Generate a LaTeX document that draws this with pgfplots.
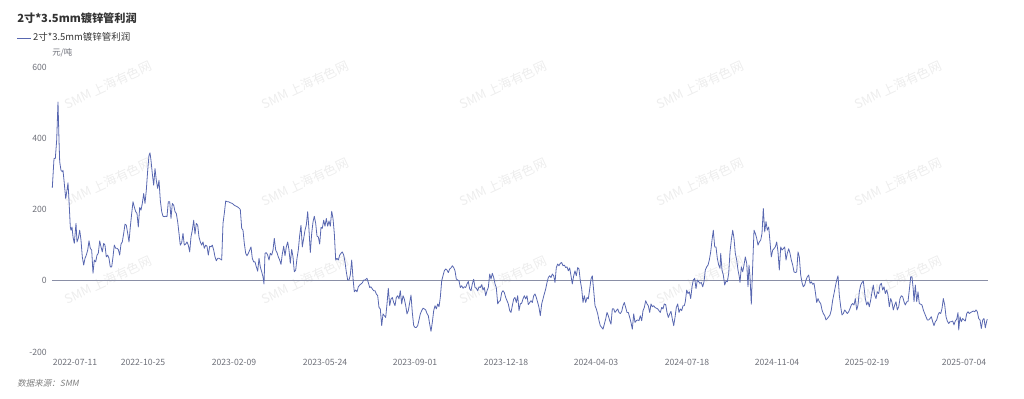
\documentclass[border=0pt]{standalone}
\usepackage{pgfplots}
\pgfplotsset{compat=1.18}
\usepackage{fontspec}
\setmainfont{Noto Sans CJK SC}
\newfontfamily\srcfont[FakeSlant=0.2]{Noto Sans CJK SC}
\definecolor{serie}{HTML}{5867B0}
\definecolor{axisgray}{HTML}{6E7079}
\definecolor{zeroline}{HTML}{8A8FA6}
\definecolor{titlec}{HTML}{333333}
\definecolor{wm}{HTML}{EDEDED}
\begin{document}
\begin{tikzpicture}[x=0.75pt,y=-0.75pt]
\path[use as bounding box] (0,0) rectangle (1024,399);
% watermarks
\foreach \wx in {108,305,503,700,898}{
  \foreach \wy in {85,182,280}{
    \node[rotate=25,text=wm,font=\fontsize{9.5}{11}\selectfont,inner sep=0pt] at (\wx,\wy) {SMM 上海有色网};
  }
}
\node[anchor=west,inner sep=0pt,text=titlec,font=\fontsize{8.4}{10}\selectfont\bfseries] at (17,18) {2寸*3.5mm镀锌管利润};
\node[anchor=west,inner sep=0pt,text=axisgray,font=\fontsize{6.3}{7.5}\selectfont] at (52,53) {元/吨};
\node[anchor=west,inner sep=0pt,text=gray,font=\fontsize{6.4}{7.5}\selectfont\srcfont] at (17,383) {数据来源：SMM};
\begin{axis}[
  at={(39pt,-264pt)}, anchor=south west, scale only axis,
  width=702pt, height=213.75pt,
  xmin=52, xmax=988, ymin=-200, ymax=600,
  axis line style={draw=none},
  tick style={draw=none}, major tick length=0pt,
  xtick={75,143,234,325,415,506,596,687,777,867,964},
  xticklabels={2022-07-11,2022-10-25,2023-02-09,2023-05-24,2023-09-01,2023-12-18,2024-04-03,2024-07-18,2024-11-04,2025-02-19,2025-07-04},
  ytick={-200,0,200,400,600}, yticklabels={-200,0,200,400,600},
  xticklabel style={anchor=center, inner sep=0pt, yshift=-7.5pt, text=axisgray, font=\fontsize{6.5}{7.5}\selectfont},
  yticklabel style={anchor=east, inner sep=0pt, xshift=-3.75pt, text=axisgray, font=\fontsize{6.5}{7.5}\selectfont},
  /pgf/number format/assume math mode=true,
  legend image code/.code={\draw[#1] (0pt,0pt) -- (10pt,0pt);},
  legend style={at={(-0.0374,1.1018)}, anchor=west, draw=none, fill=none, inner sep=0pt, outer sep=0pt,
    font=\fontsize{7.1}{8.5}\selectfont, text=titlec, nodes={inner sep=1.5pt}},
]
\draw[zeroline, line width=0.7pt] (axis cs:52,0) -- (axis cs:988,0);
\addplot[serie, line width=0.6pt, line join=round, mark=none] coordinates {
(52.3,261)(54.0,343)(55.3,343)(56.7,395)(58.0,502)(59.0,395)(59.7,334)(61.0,310)(62.3,306)(63.0,310)
(64.3,273)(65.7,231)(67.0,254)(68.0,275)(69.0,226)(70.3,151)(71.0,142)(72.0,151)(73.0,123)(74.3,105)
(76.0,161)(77.0,109)(78.3,119)(79.7,142)(81.0,114)(82.3,67)(83.7,44)(85.0,63)(86.3,72)(87.7,86)
(89.0,112)(90.3,91)(91.7,86)(93.0,21)(94.3,58)(95.7,53)(97.0,72)(98.3,77)(99.7,112)(101.0,95)
(102.3,81)(103.7,105)(105.0,100)(106.3,67)(107.7,72)(109.0,63)(110.3,39)(111.7,39)(113.0,67)(114.3,100)
(115.7,91)(117.0,91)(118.3,88)(119.7,72)(121.0,103)(122.3,109)(123.7,133)(125.0,159)(126.3,156)(127.7,133)
(129.0,109)(130.3,151)(131.7,189)(133.0,222)(134.3,207)(135.7,194)(137.0,189)(138.3,151)(139.7,206)(141.0,198)
(142.3,217)(143.7,245)(145.0,217)(146.3,254)(147.7,310)(149.0,352)(150.0,359)(151.0,338)(152.3,301)(153.7,268)
(155.0,315)(156.3,282)(157.7,259)(159.0,282)(160.3,226)(161.7,194)(163.0,181)(164.3,180)(165.7,181)(167.0,180)
(168.3,222)(169.7,222)(171.0,175)(172.3,217)(173.7,212)(175.0,194)(176.3,189)(177.7,165)(179.0,133)(180.3,100)
(181.7,107)(183.0,133)(184.3,100)(185.7,103)(187.0,109)(188.3,100)(189.7,81)(191.0,123)(192.3,142)(193.7,170)
(195.0,131)(196.3,161)(197.7,156)(199.0,123)(200.3,109)(201.7,100)(203.0,109)(204.3,91)(205.7,100)(207.0,97)
(208.3,72)(209.7,97)(211.0,95)(212.3,100)(213.7,86)(215.0,67)(216.3,56)(217.7,63)(219.0,63)(220.3,61)
(221.7,58)(223.0,161)(224.3,189)(225.7,224)(227.0,222)(228.3,222)(230.3,219)(232.3,217)(234.3,212)(236.3,209)
(238.3,206)(240.3,200)(241.7,147)(243.0,142)(244.3,105)(245.7,77)(247.0,70)(248.3,77)(249.7,86)(251.0,95)
(252.3,63)(253.7,53)(255.0,53)(256.3,39)(257.7,27)(259.0,63)(260.3,39)(261.7,25)(263.0,11)(264.0,-9)
(265.0,77)(266.3,79)(267.7,72)(269.0,58)(270.3,77)(271.7,72)(273.0,86)(274.3,119)(275.7,86)(277.0,79)
(278.3,67)(279.7,58)(281.0,46)(282.3,75)(283.7,97)(285.0,70)(286.3,95)(287.7,109)(289.0,86)(290.3,49)
(291.7,88)(293.0,67)(294.3,25)(295.7,30)(297.0,63)(298.3,86)(299.7,128)(301.0,156)(302.3,95)(303.7,119)
(305.0,142)(306.3,156)(307.7,194)(309.0,142)(310.3,79)(311.7,133)(313.0,165)(314.3,181)(315.7,161)(317.0,125)
(318.3,123)(319.7,103)(321.0,150)(322.3,147)(323.7,170)(325.0,153)(326.3,175)(327.7,153)(329.0,168)(330.3,153)
(331.7,195)(333.0,175)(334.3,133)(335.7,58)(337.0,63)(338.3,58)(339.7,72)(341.0,77)(342.3,81)(343.7,72)
(345.0,53)(346.3,25)(347.7,2)(349.0,2)(350.3,16)(351.7,58)(353.0,7)(354.3,-31)(355.7,-26)(357.0,-31)
(358.3,-17)(359.7,-12)(361.0,-9)(362.3,-6)(363.7,2)(365.0,2)(367.0,7)(368.3,-5)(369.7,-19)(371.0,-17)
(372.3,-23)(373.7,-28)(375.0,-28)(376.3,-37)(377.7,-42)(379.0,-75)(380.3,-79)(381.7,-126)(383.0,-93)(384.3,-98)
(385.7,-103)(387.0,-65)(388.3,-21)(389.7,-70)(391.0,-51)(392.3,-47)(393.7,-61)(395.0,-70)(396.3,-47)(397.7,-42)
(399.0,-51)(400.3,-28)(401.7,-65)(403.0,-42)(404.3,-51)(405.7,-70)(407.0,-93)(408.3,-84)(409.7,-61)(411.0,-40)
(412.3,-89)(413.7,-126)(415.0,-131)(416.3,-131)(417.7,-126)(419.0,-110)(420.3,-93)(421.7,-84)(423.0,-77)(424.3,-79)
(425.7,-82)(427.0,-92)(428.3,-98)(429.7,-122)(431.0,-142)(432.3,-117)(433.7,-84)(435.0,-70)(436.3,-79)(437.7,-65)
(439.0,-73)(440.3,-47)(441.7,0)(443.0,14)(444.3,28)(445.7,33)(447.0,30)(448.3,23)(449.7,33)(451.0,36)
(452.3,42)(453.7,37)(455.0,28)(456.3,5)(457.7,2)(459.0,0)(460.3,-19)(461.7,-14)(463.0,-21)(464.3,-17)
(465.7,-19)(467.0,-9)(468.3,-2)(469.7,-23)(471.0,-28)(472.3,-9)(473.7,4)(475.0,-19)(476.3,-21)(477.7,-28)
(479.0,-17)(480.3,-19)(481.7,-11)(483.0,-26)(484.3,-19)(485.7,-42)(487.0,-28)(488.3,-19)(489.7,19)(491.0,5)
(492.3,21)(493.7,9)(495.0,-9)(496.3,-19)(497.7,-65)(499.0,-58)(500.3,-56)(501.7,-33)(503.0,-28)(504.3,-33)
(505.7,-47)(507.0,-56)(508.3,-65)(509.7,-84)(511.0,-89)(512.3,-70)(513.7,-51)(515.0,-47)(516.3,-61)(517.7,-42)
(519.0,-84)(520.3,-65)(521.7,-63)(523.0,-51)(524.3,-42)(525.7,-51)(527.0,-42)(528.3,-67)(529.7,-61)(531.0,-56)
(532.3,-61)(533.7,-42)(535.0,-37)(536.3,-47)(537.7,-61)(539.0,-75)(540.3,-98)(541.7,-65)(543.0,-51)(544.3,-37)
(545.7,-23)(547.0,-5)(548.3,9)(549.7,14)(551.0,9)(552.3,19)(553.7,14)(555.0,-5)(556.3,37)(557.7,47)
(559.0,42)(560.3,49)(561.7,51)(563.0,42)(564.3,44)(565.7,37)(567.0,39)(568.3,28)(569.7,36)(571.0,14)
(572.3,-9)(573.7,14)(575.0,28)(576.3,14)(577.7,37)(579.0,33)(580.3,0)(581.7,-23)(583.0,-61)(584.3,-42)
(585.7,-61)(587.0,-47)(588.3,-51)(589.7,-23)(591.0,5)(592.3,14)(593.7,-28)(595.0,-70)(596.3,-79)(597.7,-93)
(599.0,-112)(600.3,-126)(601.7,-131)(603.0,-136)(604.3,-122)(605.7,-107)(607.0,-89)(608.3,-98)(609.7,-112)(611.0,-122)
(612.3,-79)(613.7,-79)(615.0,-89)(616.3,-84)(617.7,-79)(619.0,-89)(620.3,-92)(621.7,-86)(623.0,-70)(624.3,-61)
(625.7,-75)(627.0,-89)(628.3,-89)(629.7,-103)(631.0,-117)(632.3,-136)(633.7,-93)(635.0,-117)(636.3,-112)(637.7,-110)
(639.0,-112)(640.3,-98)(641.7,-112)(643.0,-84)(644.3,-75)(645.7,-56)(647.0,-65)(648.3,-70)(649.7,-89)(651.0,-65)
(652.3,-73)(653.7,-70)(655.0,-75)(656.3,-77)(657.7,-79)(659.0,-84)(660.3,-89)(661.7,-75)(663.0,-79)(664.3,-65)
(665.7,-67)(667.0,-89)(668.3,-103)(669.7,-93)(671.0,-86)(672.3,-107)(673.7,-126)(675.0,-103)(676.3,-75)(677.7,-65)
(679.0,-89)(680.3,-79)(681.7,-84)(683.0,-70)(684.3,-70)(685.3,-59)(686.7,-26)(688.0,-36)(689.3,-31)(690.7,-50)
(692.0,-17)(693.3,2)(694.7,7)(696.0,-22)(697.3,2)(698.7,-3)(700.0,-7)(701.3,-5)(702.7,-17)(704.0,-3)
(705.3,30)(706.7,39)(708.0,44)(709.3,58)(710.7,81)(712.0,114)(713.3,142)(714.7,95)(716.0,95)(717.3,63)
(718.7,44)(720.0,35)(720.7,77)(722.0,30)(723.3,16)(724.7,-12)(726.0,-1)(727.3,-3)(728.7,21)(730.0,81)
(731.3,114)(732.7,142)(734.0,119)(735.3,77)(736.7,58)(738.0,30)(739.3,11)(740.0,-5)(741.3,39)(742.7,25)
(744.0,44)(745.3,67)(746.7,49)(748.0,-17)(749.0,44)(750.0,11)(751.3,-66)(752.7,44)(754.0,142)(755.3,133)
(756.7,119)(758.0,100)(759.3,109)(760.7,114)(762.0,133)(763.3,203)(764.7,137)(766.0,166)(767.3,142)(768.7,151)
(770.0,109)(771.3,67)(772.7,86)(774.0,90)(775.3,95)(776.7,109)(778.0,81)(779.3,30)(780.7,95)(782.0,86)
(783.3,90)(784.7,95)(786.0,58)(787.3,77)(788.7,90)(790.0,77)(791.3,58)(792.7,44)(794.0,25)(795.3,23)
(796.7,25)(798.0,81)(799.3,67)(800.7,16)(802.0,-5)(803.3,-17)(804.7,-12)(806.0,2)(807.3,11)(808.7,16)
(810.0,-7)(811.3,-3)(812.7,-10)(814.0,-7)(815.3,-31)(816.7,-61)(818.0,-50)(819.3,-59)(820.7,-64)(822.0,-82)
(823.3,-92)(824.7,-98)(826.0,-110)(827.3,-106)(828.7,-101)(830.0,-96)(831.3,-82)(832.7,-54)(834.0,-36)(835.3,-17)
(836.7,2)(838.0,14)(839.3,-40)(840.7,-73)(842.0,-96)(843.3,-92)(844.7,-82)(846.0,-87)(847.3,-92)(848.7,-87)
(850.0,-78)(851.3,-68)(852.7,-64)(854.0,-68)(855.3,-50)(856.7,-82)(858.0,-68)(859.3,-31)(860.7,-12)(862.0,-5)
(863.3,-1)(864.0,-17)(865.3,-50)(866.7,-68)(868.0,-59)(869.3,-73)(870.7,-54)(872.0,-31)(873.3,-12)(874.7,-40)
(876.0,-50)(877.3,-31)(878.7,-36)(880.0,-12)(881.3,-7)(882.7,-26)(884.0,-17)(885.3,-36)(886.7,-26)(888.0,-40)
(889.3,-73)(890.7,-50)(892.0,-61)(893.3,-82)(894.7,-68)(896.0,-59)(897.3,-82)(898.7,-73)(900.0,-50)(901.3,-42)
(902.7,-45)(904.0,-59)(905.3,-68)(906.7,-59)(908.0,-59)(909.3,-26)(910.7,11)(912.0,11)(913.3,-26)(914.0,-59)
(915.3,-12)(916.7,-59)(918.0,-31)(919.3,-64)(920.7,-66)(922.0,-68)(923.3,-82)(924.7,-92)(926.0,-101)(927.3,-110)
(928.7,-110)(930.0,-106)(931.3,-101)(932.7,-115)(934.0,-126)(935.3,-115)(936.7,-110)(938.0,-96)(939.3,-89)(940.7,-92)
(942.0,-78)(943.3,-50)(944.7,-68)(946.0,-101)(947.3,-113)(948.7,-120)(950.0,-115)(951.3,-115)(952.7,-113)(954.0,-124)
(955.3,-113)(956.7,-108)(958.0,-89)(958.7,-138)(960.0,-101)(961.3,-115)(962.7,-106)(964.0,-110)(965.3,-113)(966.7,-92)
(968.0,-87)(969.3,-92)(970.7,-89)(972.0,-87)(973.3,-85)(974.7,-87)(976.0,-82)(977.3,-87)(978.7,-106)(980.0,-110)
(981.3,-134)(982.7,-110)(984.0,-106)(985.3,-132)(986.7,-113)(987.3,-108)
};
\addlegendentry{2寸*3.5mm镀锌管利润}
\end{axis}
\end{tikzpicture}
\end{document}
